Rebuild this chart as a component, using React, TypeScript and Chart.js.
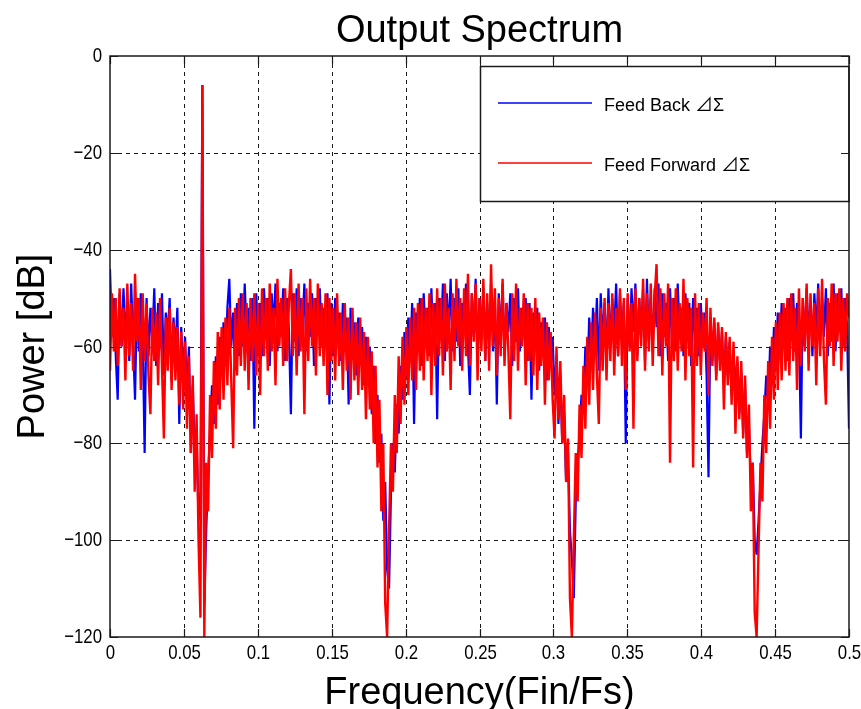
import React, { useEffect, useRef } from "react";
import { Chart, registerables } from "chart.js";

Chart.register(...registerables);

const TITLE = "Output Spectrum";
const X_LABEL = "Frequency(Fin/Fs)";
const Y_LABEL = "Power [dB]";
const SERIES_NAMES = ["Feed Back ⊿Σ", "Feed Forward ⊿Σ"];
const SERIES_COLORS = ["#0000ff", "#ff0000"];
const X_TICKS = [0, 0.05, 0.1, 0.15, 0.2, 0.25, 0.3, 0.35, 0.4, 0.45, 0.5];
const Y_TICKS = [0, -20, -40, -60, -80, -100, -120];
const BINS_PER_FS = 768;

// Feed Back ΔΣ spectrum (dB), one value per bin
const FEED_BACK = [
  -44,-58,-50,-62,-71,-49,-60,-48,-57,-52,-63,-47,-59,-71,-50,-61,-49,-58,
  -82,-50,-62,-52,-59,-48,-64,-51,-60,-49,-66,-53,-58,-50,-67,-54,-61,-52,
  -76,-56,-66,-58,-70,-60,-82,-68,-82,-78,-96,-90,-6,
  -113,-98,-86,-78,-68,-76,-62,-72,-58,-66,-55,-64,-52,-46,-60,-53,
  -65,-51,-62,-49,-60,-47,-58,-52,-63,-50,-77,-49,-59,-51,-62,-48,
  -57,-50,-64,-49,-56,-47,-61,-51,-58,-48,-63,-50,-57,-74,-49,-59,
  -48,-62,-50,-56,-47,-61,-51,-58,-49,-64,-50,-57,-48,-60,-52,-59,
  -49,-72,-51,-62,-50,-58,-53,-63,-51,-60,-54,-72,-52,-61,-55,-66,
  -54,-62,-56,-68,-58,-65,-60,-74,-64,-80,-70,-84,-78,-96,-88,-106,
  -110,-90,-80,-86,-72,-78,-64,-71,-57,-66,-54,-63,-51,-76,-53,-61,
  -50,-64,-49,-59,-52,-62,-48,-60,-51,-75,-50,-58,-47,-63,-49,-57,
  -46,-61,-50,-59,-48,-64,-51,-56,-47,-60,-70,-49,-58,-46,-62,-50,
  -57,-48,-63,-51,-59,-47,-61,-50,-72,-49,-58,-47,-62,-51,-57,-49,
  -64,-50,-59,-48,-61,-52,-58,-50,-63,-51,-71,-53,-60,-52,-65,-55,
  -62,-54,-67,-56,-64,-58,-70,-62,-76,-66,-80,-74,-88,-82,-98,-104,
  -112,-92,-84,-78,-70,-74,-60,-68,-54,-63,-52,-61,-50,-65,-49,-59,
  -51,-63,-48,-60,-50,-57,-47,-62,-49,-58,-51,-80,-50,-60,-48,-57,
  -47,-62,-50,-58,-48,-63,-46,-59,-50,-61,-48,-56,-47,-62,-49,-58,
  -51,-63,-48,-59,-50,-61,-47,-58,-52,-62,-49,-57,-51,-64,-50,-59,
  -52,-62,-51,-60,-53,-66,-87,-54,-63,-55,-66,-56,-64,-57,-68,-58,
  -66,-59,-70,-61,-68,-63,-74,-65,-78,-68,-82,-76,-88,-84,-100,-103,
  -96,-88,-80,-74,-66,-72,-60,-68,-56,-64,-53,-62,-51,-60,-52,-63,
  -50,-58,-49,-61,-51,-57,-79,-50,-60,-48,-58,-51,-62,-49,-57,-47,
  -60,-50,-58,-48,-62,-51,-59,-47,-61,-49,-57,-48,-60,-50,-56,-77,
];

// Feed Forward ΔΣ spectrum (dB), one value per bin
const FEED_FORWARD = [
  -65,-49,-61,-50,-64,-48,-60,-52,-67,-47,-62,-51,-65,-45,-59,-50,-69,-49,
  -63,-51,-66,-74,-52,-63,-53,-68,-50,-64,-79,-54,-65,-52,-69,-55,-67,-56,
  -72,-57,-73,-59,-77,-62,-82,-66,-90,-74,-100,-116,-6,
  -120,-84,-94,-70,-83,-63,-77,-57,-73,-56,-71,-54,-68,-52,-67,-81,
  -52,-66,-50,-64,-49,-65,-51,-69,-50,-63,-49,-66,-51,-70,-48,-62,
  -50,-65,-47,-61,-52,-68,-46,-60,-50,-64,-48,-63,-51,-44,-62,-49,
  -66,-47,-61,-50,-74,-48,-63,-46,-60,-50,-66,-47,-62,-51,-64,-49,
  -70,-50,-63,-52,-67,-49,-64,-53,-69,-51,-65,-54,-71,-52,-67,-55,
  -70,-54,-69,-57,-75,-58,-73,-61,-80,-64,-85,-71,-94,-80,-113,-120,
  -98,-80,-90,-70,-82,-62,-76,-58,-72,-56,-70,-54,-67,-52,-69,-51,
  -65,-50,-67,-52,-63,-49,-70,-51,-64,-48,-62,-50,-66,-47,-61,-52,
  -69,-49,-63,-46,-60,-50,-65,-48,-62,-45,-64,-49,-59,-47,-67,-50,
  -61,-46,-63,-49,-65,-43,-60,-48,-66,-50,-62,-46,-64,-51,-61,-75,
  -49,-63,-47,-65,-52,-60,-49,-68,-51,-63,-52,-66,-50,-69,-53,-64,
  -54,-72,-55,-67,-57,-71,-79,-60,-75,-63,-80,-70,-88,-79,-112,-120,
  -100,-82,-92,-72,-83,-64,-77,-58,-72,-55,-69,-53,-66,-76,-52,-65,
  -50,-67,-51,-63,-49,-66,-52,-62,-48,-64,-50,-69,-49,-61,-51,-77,
  -48,-63,-50,-60,-46,-65,-49,-61,-47,-64,-50,-43,-62,-48,-66,-49,
  -60,-47,-84,-50,-63,-48,-65,-51,-61,-46,-67,-50,-62,-52,-85,-49,
  -64,-51,-66,-53,-61,-50,-70,-52,-64,-54,-67,-55,-65,-56,-73,-57,
  -68,-58,-72,-59,-78,-62,-75,-63,-79,-66,-83,-72,-94,-84,-115,-120,
  -102,-84,-92,-70,-82,-63,-77,-58,-71,-55,-69,-53,-67,-51,-65,-50,
  -66,-49,-63,-52,-69,-48,-64,-50,-61,-47,-65,-49,-60,-51,-68,-48,
  -62,-46,-63,-72,-50,-60,-47,-64,-49,-59,-48,-65,-50,-61,-49,-54,
];

const FREQ = FEED_BACK.map((_, i) => i / BINS_PER_FS);

const TEXT_FONT = "'Liberation Sans', 'Noto Sans CJK JP', sans-serif";
const INK = "#1a1a1a";

function drawText(
  ctx: CanvasRenderingContext2D,
  text: string,
  x: number,
  y: number,
  size: number,
  align: CanvasTextAlign,
  baseline: CanvasTextBaseline,
  sx = 1,
  rot = 0
) {
  ctx.save();
  ctx.translate(x, y);
  if (rot) ctx.rotate(rot);
  ctx.scale(sx, 1);
  ctx.font = `${size}px ${TEXT_FONT}`;
  ctx.fillStyle = "#000";
  ctx.textAlign = align;
  ctx.textBaseline = baseline;
  ctx.fillText(text, 0, 0);
  ctx.restore();
}

const framePlugin = {
  id: "matlabFrame",
  beforeDatasetsDraw(chart: any) {
    const { ctx, chartArea: a, scales } = chart;
    ctx.save();
    ctx.strokeStyle = INK;
    ctx.lineWidth = 1;
    ctx.setLineDash([4, 4]);
    X_TICKS.forEach((v) => {
      const px = Math.round(scales.x.getPixelForValue(v)) + 0.5;
      if (px < a.left + 2 || px > a.right - 2) return;
      ctx.beginPath();
      ctx.moveTo(px, a.top);
      ctx.lineTo(px, a.bottom);
      ctx.stroke();
    });
    Y_TICKS.forEach((v) => {
      const py = Math.round(scales.y.getPixelForValue(v)) + 0.5;
      if (py < a.top + 2 || py > a.bottom - 2) return;
      ctx.beginPath();
      ctx.moveTo(a.left, py);
      ctx.lineTo(a.right, py);
      ctx.stroke();
    });
    ctx.restore();
  },
  afterDatasetsDraw(chart: any) {
    const { ctx, chartArea: a, scales } = chart;
    ctx.save();

    // legend box
    const lx = 480.5, ly = 66.5, lw = a.right - 480.5, lh = 135;
    ctx.fillStyle = "#fff";
    ctx.fillRect(lx, ly, lw, lh);
    ctx.strokeStyle = INK;
    ctx.lineWidth = 1.5;
    ctx.setLineDash([]);
    ctx.strokeRect(lx, ly, lw, lh);
    const rows = [103, 163];
    SERIES_NAMES.forEach((name, k) => {
      ctx.strokeStyle = SERIES_COLORS[k];
      ctx.lineWidth = 1.5;
      ctx.beginPath();
      ctx.moveTo(498, rows[k]);
      ctx.lineTo(592, rows[k]);
      ctx.stroke();
      drawText(ctx, name, 604, rows[k] + 8, 18, "left", "alphabetic");
    });

    // axes box
    ctx.strokeStyle = INK;
    ctx.lineWidth = 1.5;
    ctx.strokeRect(a.left, a.top, a.right - a.left, a.bottom - a.top);

    // inward ticks
    const TL = 8;
    ctx.lineWidth = 1.2;
    X_TICKS.forEach((v) => {
      const px = Math.round(scales.x.getPixelForValue(v)) + 0.5;
      ctx.beginPath();
      ctx.moveTo(px, a.bottom);
      ctx.lineTo(px, a.bottom - TL);
      ctx.moveTo(px, a.top);
      ctx.lineTo(px, a.top + TL);
      ctx.stroke();
      drawText(ctx, String(v), px, a.bottom + 6, 21, "center", "top", 0.8);
    });
    Y_TICKS.forEach((v) => {
      const py = Math.round(scales.y.getPixelForValue(v)) + 0.5;
      ctx.beginPath();
      ctx.moveTo(a.left, py);
      ctx.lineTo(a.left + TL, py);
      ctx.moveTo(a.right, py);
      ctx.lineTo(a.right - TL, py);
      ctx.stroke();
      const label = v < 0 ? "\u2212" + Math.abs(v) : String(v);
      drawText(ctx, label, a.left - 8, py, 21, "right", "middle", 0.8);
    });

    // titles
    const cx = (a.left + a.right) / 2;
    const cy = (a.top + a.bottom) / 2;
    drawText(ctx, TITLE, cx, 42, 38, "center", "alphabetic");
    drawText(ctx, X_LABEL, cx, 704, 38, "center", "alphabetic");
    drawText(ctx, Y_LABEL, 44, cy, 38, "center", "alphabetic", 1, -Math.PI / 2);

    ctx.restore();
  },
};

export default function App() {
  const ref = useRef<HTMLCanvasElement>(null);

  useEffect(() => {
    const canvas = ref.current;
    if (!canvas) return;
    const chart = new Chart(canvas, {
      type: "line",
      data: {
        datasets: [
          {
            label: SERIES_NAMES[1],
            data: FEED_FORWARD.map((y, i) => ({ x: FREQ[i], y })),
            borderColor: SERIES_COLORS[1],
            borderWidth: 2.4,
            pointRadius: 0,
            tension: 0,
          },
          {
            label: SERIES_NAMES[0],
            data: FEED_BACK.map((y, i) => ({ x: FREQ[i], y })),
            borderColor: SERIES_COLORS[0],
            borderWidth: 2.2,
            pointRadius: 0,
            tension: 0,
          },
        ],
      },
      options: {
        responsive: false,
        devicePixelRatio: 1,
        animation: false,
        events: [],
        layout: { padding: { left: 0, top: 56, right: 12, bottom: 0 } },
        plugins: {
          legend: { display: false },
          title: { display: false },
          tooltip: { enabled: false },
        },
        scales: {
          x: {
            type: "linear",
            min: 0,
            max: 0.5,
            afterBuildTicks: (s: any) => {
              s.ticks = X_TICKS.map((value) => ({ value }));
            },
            afterFit: (s: any) => {
              s.height = 72;
              s.paddingLeft = 0;
              s.paddingRight = 0;
            },
            ticks: { display: false },
            grid: { display: false },
            border: { display: false },
          },
          y: {
            type: "linear",
            min: -120,
            max: 0,
            afterBuildTicks: (s: any) => {
              s.ticks = Y_TICKS.map((value) => ({ value }));
            },
            afterFit: (s: any) => {
              s.width = 110;
              s.paddingTop = 0;
              s.paddingBottom = 0;
            },
            ticks: { display: false },
            grid: { display: false },
            border: { display: false },
          },
        },
      } as any,
      plugins: [framePlugin],
    });
    return () => chart.destroy();
  }, []);

  return (
    <div
      style={{
        position: "fixed",
        left: 0,
        top: 0,
        width: 861,
        height: 709,
        background: "#fff",
      }}
    >
      <canvas ref={ref} width={861} height={709} style={{ display: "block" }} />
    </div>
  );
}
